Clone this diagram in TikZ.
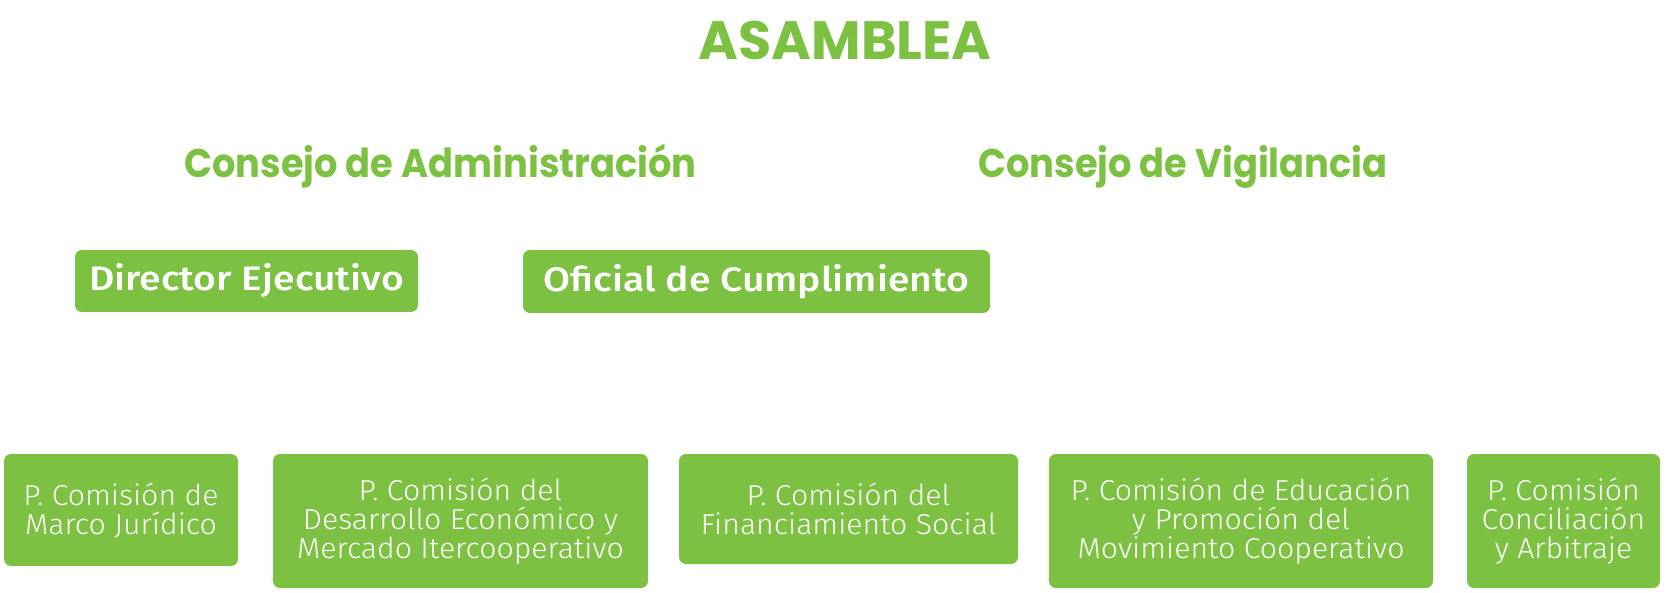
\documentclass[tikz,border=0pt]{standalone}
\usepackage{fontspec}
\setmainfont{Fira Sans Light}
\newfontfamily\headf{Poppins}
\newfontfamily\headnarrow{Poppins}[FakeStretch=0.92]
\newfontfamily\midf{Fira Sans Medium}[FakeStretch=1.15]
\newfontfamily\lightf{Fira Sans Light}[FakeStretch=1.05]
\definecolor{mygreen}{RGB}{125,193,66}
\tikzset{
  heading/.style={text=mygreen, inner sep=0pt, anchor=base},
  greenbox/.style={fill=mygreen, rounded corners=3.5pt, inner sep=0pt, text=white, align=center},
  midbox/.style={greenbox, font=\midf\fontsize{17}{20}\selectfont},
  commbox/.style={greenbox, font=\lightf\fontsize{14.4}{14.5}\selectfont},
}
\begin{document}
\begin{tikzpicture}[x=0.5pt,y=-0.5pt]
\useasboundingbox (0,0) rectangle (1677,593);
\node[heading, font=\headf\bfseries\fontsize{27}{30}\selectfont] (asam) at (845,60) {ASAMBLEA};
\node[heading, font=\headnarrow\bfseries\fontsize{20}{24}\selectfont] (cadm) at (440.5,178) {Consejo de Administración};
\node[heading, font=\headnarrow\bfseries\fontsize{20}{24}\selectfont] (cvig) at (1183,178) {Consejo de Vigilancia};
\node[midbox, minimum width=171.5pt, minimum height=31pt] (dir) at (246.5,281) {Director Ejecutivo};
\node[midbox, minimum width=233.5pt, minimum height=31.5pt] (ofi) at (756.5,281.5) {Oficial de Cumplimiento};
\node[commbox, minimum width=117pt, minimum height=56pt] (b1) at (121,510) {P. Comisión de\\Marco Jurídico};
\node[commbox, minimum width=187.5pt, minimum height=67pt] (b2) at (460.5,521) {P. Comisión del\\Desarrollo Económico y\\Mercado Itercooperativo};
\node[commbox, minimum width=169.5pt, minimum height=55pt] (b3) at (848.5,509) {P. Comisión del\\Financiamiento Social};
\node[commbox, minimum width=192pt, minimum height=67pt] (b4) at (1241,521) {P. Comisión de Educación\\y Promoción del\\Movimiento Cooperativo};
\node[commbox, minimum width=96.5pt, minimum height=67pt] (b5) at (1563.5,521) {P. Comisión\\Conciliación\\y Arbitraje};
\end{tikzpicture}
\end{document}
